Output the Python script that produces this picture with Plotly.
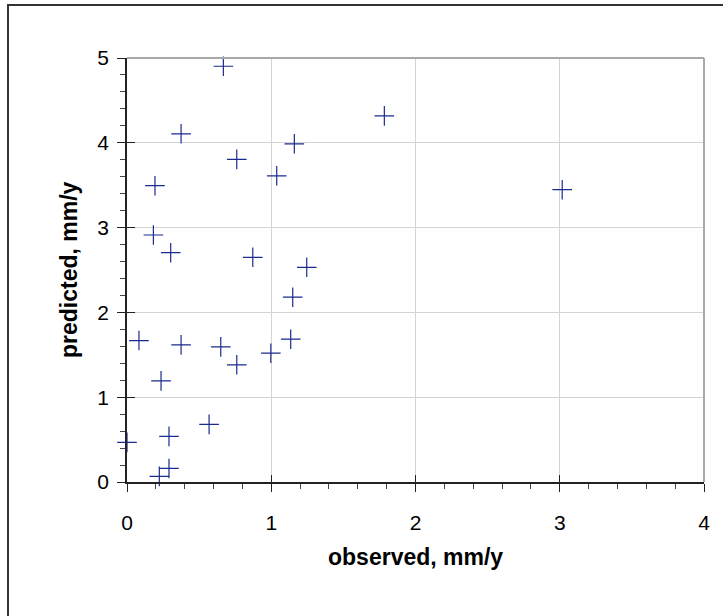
import plotly.graph_objects as go

observed = [0.668, 0.375, 0.194, 0.761, 1.038, 1.160, 0.183, 0.303, 0.872, 1.246,
            1.149, 0.083, 0.375, 0.650, 0.761, 0.997, 1.135, 0.236, 0.569, 0.291,
            0.000, 0.291, 0.224, 1.784, 3.017]
predicted = [4.903, 4.106, 3.494, 3.804, 3.611, 3.988, 2.913, 2.704, 2.650, 2.532,
             2.179, 1.668, 1.617, 1.594, 1.382, 1.519, 1.684, 1.193, 0.679, 0.538,
             0.467, 0.160, 0.066, 4.318, 3.447]
x_ticks = [0, 1, 2, 3, 4]
y_ticks = [0, 1, 2, 3, 4, 5]

FONT = "Liberation Sans, Arial, sans-serif"
ML, MR, MT, MB = 127, 19, 58, 134
W, H = 723, 616
PW, PH = W - ML - MR, H - MT - MB

fig = go.Figure()
fig.add_trace(go.Scatter(
    x=observed, y=predicted, mode="markers", cliponaxis=False,
    marker=dict(symbol="cross-thin", size=14, line=dict(color="#1b2a8f", width=1.2)),
    showlegend=False, hoverinfo="x+y"))
# empty trace to activate overlay axes (inside half of major ticks)
fig.add_trace(go.Scatter(x=[], y=[], xaxis="x2", yaxis="y2", showlegend=False))

common = dict(showgrid=True, gridcolor="#d4d4d4", gridwidth=1, zeroline=False,
              showline=True, linecolor="#222", linewidth=1.5,
              ticks="outside", ticklen=8, tickwidth=1, tickcolor="#222",
              tickfont=dict(family=FONT, size=21, color="black"),
              minor=dict(dtick=0.2, ticks="outside", ticklen=5, tickwidth=1,
                         tickcolor="#444", showgrid=False))

fig.update_layout(
    width=W, height=H, autosize=False,
    margin=dict(l=ML, r=MR, t=MT, b=MB),
    paper_bgcolor="white", plot_bgcolor="white",
    xaxis=dict(range=[0, 4], tickvals=x_ticks, ticktext=[str(v) for v in x_ticks],
               ticklabelstandoff=13, **common),
    yaxis=dict(range=[0, 5], tickvals=y_ticks, ticktext=[str(v) for v in y_ticks],
               ticklabelstandoff=4, **common),
    xaxis2=dict(range=[0, 4], overlaying="x", anchor="y", side="bottom",
                tickvals=x_ticks, ticks="inside", ticklen=7, tickcolor="#222",
                showticklabels=False, showgrid=False, showline=False, zeroline=False),
    yaxis2=dict(range=[0, 5], overlaying="y", anchor="x", side="left",
                tickvals=y_ticks, ticks="inside", ticklen=8, tickcolor="#222",
                showticklabels=False, showgrid=False, showline=False, zeroline=False),
    annotations=[
        dict(text="<b>observed, mm/y</b>", xref="paper", yref="paper",
             x=0.5, y=-(557 - (H - MB)) / PH,
             xanchor="center", yanchor="middle", showarrow=False,
             font=dict(family=FONT, size=23, color="black")),
        dict(text="<b>predicted, mm/y</b>", xref="paper", yref="paper",
             x=-(ML - 69) / PW, y=0.5, textangle=-90,
             xanchor="center", yanchor="middle", showarrow=False,
             font=dict(family=FONT, size=23, color="black")),
    ],
    shapes=[
        dict(type="line", xref="paper", yref="paper", x0=0, x1=1, y0=1, y1=1,
             line=dict(color="#a8a8a8", width=2)),
        dict(type="line", xref="paper", yref="paper", x0=1, x1=1, y0=0, y1=1,
             line=dict(color="#a8a8a8", width=2)),
        dict(type="rect", xref="paper", yref="paper",
             x0=(8 - ML) / PW, x1=(W + 10 - ML) / PW,
             y0=-(H + 20 - (H - MB)) / PH, y1=((H - MB) - 5) / PH,
             line=dict(color="#333", width=2), fillcolor="rgba(0,0,0,0)"),
    ],
)

fig.write_html("out.html", config={"displayModeBar": False},
               post_script="document.body.style.margin='0px';")
